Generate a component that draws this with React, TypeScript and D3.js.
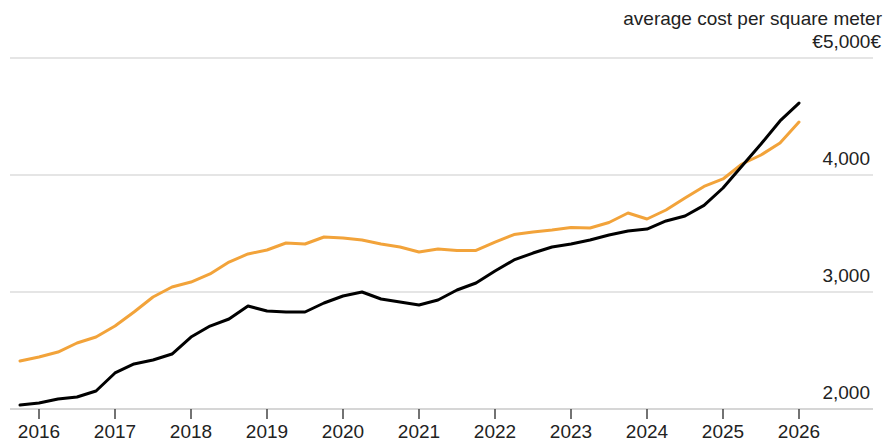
import React from 'react'
import * as d3 from 'd3'

// quarterly observations, 2015Q4 .. 2026Q1
const quarters = [
  '2015Q4',
  '2016Q1', '2016Q2', '2016Q3', '2016Q4',
  '2017Q1', '2017Q2', '2017Q3', '2017Q4',
  '2018Q1', '2018Q2', '2018Q3', '2018Q4',
  '2019Q1', '2019Q2', '2019Q3', '2019Q4',
  '2020Q1', '2020Q2', '2020Q3', '2020Q4',
  '2021Q1', '2021Q2', '2021Q3', '2021Q4',
  '2022Q1', '2022Q2', '2022Q3', '2022Q4',
  '2023Q1', '2023Q2', '2023Q3', '2023Q4',
  '2024Q1', '2024Q2', '2024Q3', '2024Q4',
  '2025Q1', '2025Q2', '2025Q3', '2025Q4',
  '2026Q1',
]

const blackValues = [
  2034, 2051, 2085, 2103, 2154, 2308, 2385, 2419, 2470, 2615,
  2709, 2769, 2880, 2838, 2829, 2829, 2906, 2966, 3000, 2940,
  2915, 2889, 2932, 3017, 3077, 3179, 3274, 3333, 3385, 3410,
  3444, 3487, 3521, 3538, 3607, 3650, 3740, 3889, 4077, 4265,
  4462, 4615,
]

const orangeValues = [
  2410, 2444, 2487, 2564, 2615, 2709, 2829, 2957, 3043, 3085,
  3154, 3256, 3325, 3359, 3419, 3410, 3470, 3462, 3444, 3410,
  3385, 3342, 3368, 3355, 3355, 3427, 3491, 3513, 3530, 3551,
  3547, 3594, 3675, 3624, 3701, 3803, 3902, 3966, 4094, 4171,
  4274, 4453,
]

const yearTicks = [2016, 2017, 2018, 2019, 2020, 2021, 2022, 2023, 2024, 2025, 2026]
const valueTicks = [2000, 3000, 4000, 5000]
const valueLabels = ['2,000', '3,000', '4,000', '€5,000€']
const subtitle = 'average cost per square meter'

const width = 887
const height = 441
const font = '"Liberation Sans", Arial, Helvetica, sans-serif'

function quarterToYear(q: string) {
  const [y, n] = q.split('Q')
  return +y + (+n - 1) / 4
}

export default function App() {
  const x = d3.scaleLinear().domain([2016, 2026]).range([39, 799])
  const y = d3.scaleLinear().domain([2000, 5000]).range([409, 58])

  const line = d3
    .line<number>()
    .x((_, i) => x(quarterToYear(quarters[i])))
    .y((d) => y(d))

  return (
    <svg
      width={width}
      height={height}
      style={{ position: 'absolute', left: 0, top: 0, background: '#fff' }}
      fontFamily={font}
    >
      {valueTicks.map((v) => (
        <line
          key={v}
          x1={10}
          x2={873}
          y1={y(v)}
          y2={y(v)}
          stroke={v === 2000 ? '#c8c8c8' : '#dcdcdc'}
          strokeWidth={1.5}
        />
      ))}
      {valueTicks.map((v, i) => (
        <text
          key={'l' + v}
          x={i === valueTicks.length - 1 ? 881 : 870}
          y={y(v) - 10}
          textAnchor="end"
          fontSize={19}
          fill="#222"
        >
          {valueLabels[i]}
        </text>
      ))}
      <text x={882} y={25} textAnchor="end" fontSize={19} fill="#222">
        {subtitle}
      </text>

      {yearTicks.map((t) => (
        <g key={t} transform={`translate(${x(t)},0)`}>
          <line y1={409} y2={419} stroke="#444" strokeWidth={1.5} />
          <text y={438} textAnchor="middle" fontSize={19} fill="#222">
            {t}
          </text>
        </g>
      ))}

      <path
        d={line(orangeValues) || ''}
        fill="none"
        stroke="#f2a33a"
        strokeWidth={3}
        strokeLinejoin="round"
        strokeLinecap="round"
      />
      <path
        d={line(blackValues) || ''}
        fill="none"
        stroke="#000"
        strokeWidth={3}
        strokeLinejoin="round"
        strokeLinecap="round"
      />
    </svg>
  )
}
